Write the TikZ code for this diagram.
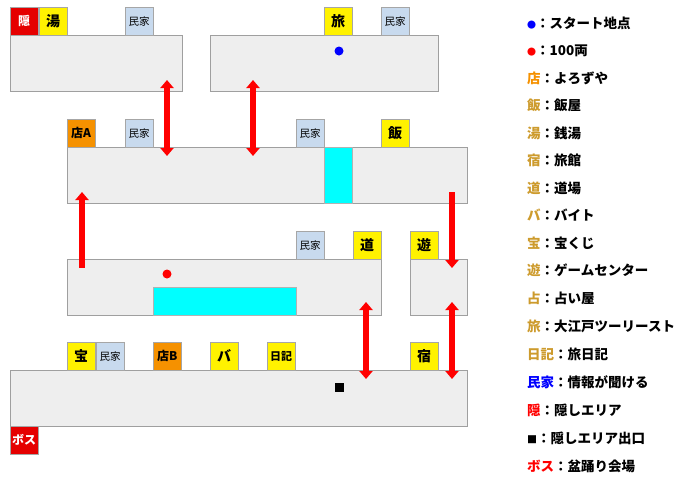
\documentclass[tikz,border=0pt]{standalone}
\usepackage{fontspec}
\setmainfont{Noto Sans CJK JP}
\usetikzlibrary{arrows.meta,positioning}
\definecolor{pool}{RGB}{0,255,255}
\definecolor{shopor}{RGB}{245,145,0}
\definecolor{keygold}{RGB}{205,155,45}
\tikzset{
    % Colours
    room color/.style={fill=gray!13,draw=gray!75},
    water/.style={fill=pool,draw=gray!60},
    %
    % Tiles
    tile/.style={draw=gray!70,minimum width=28pt,minimum height=28pt,inner sep=0pt,anchor=north west},
    spot/.style={tile,fill=yellow,font=\bfseries\fontsize{14}{14}\selectfont},
    house/.style={tile,fill={rgb,255:red,200;green,218;blue,238},font=\fontsize{10.5}{10.5}\selectfont},
    shop/.style={tile,fill=shopor,font=\bfseries\fontsize{12}{12}\selectfont},
    secret/.style={tile,fill=red!90!black,text=white,font=\bfseries\fontsize{12}{12}\selectfont},
    %
    % Arrows
    link tip/.tip={Triangle[width=13pt,length=8pt]},
    link/.style={{link tip}-{link tip},red,line width=6.5pt},
    legend/.style={anchor=west,font=\bfseries\fontsize{13.5}{13.5}\selectfont,inner sep=0pt}
}
\newcommand{\dotkey}[1]{\textcolor{#1}{\fontsize{9}{9}\selectfont●}}
\begin{document}
\begin{tikzpicture}[x=1pt,y=-1pt]
    \useasboundingbox (0,0) rectangle (700,480);
    % rooms
    \draw[room color] (10,35) rectangle (182,91);
    \draw[room color] (210,35) rectangle (438,91);
    \draw[room color] (67,147) rectangle (467,203);
    \draw[water] (324,147) rectangle (352,203);
    \draw[room color] (67,259) rectangle (381,315);
    \draw[water] (153,287) rectangle (296,315);
    \draw[room color] (410,259) rectangle (467,315);
    \draw[room color] (10,370) rectangle (467,426);
    % row 1
    \node[secret] (hide) at (10,7) {隠};
    \node[spot] (bath) at (39,7) {湯};
    \node[house] (h1) at (125,7) {民家};
    \node[spot] (tour) at (324,7) {旅};
    \node[house] (h2) at (381,7) {民家};
    % row 2
    \node[shop] (shopA) at (67,119) {店A};
    \node[house] (h3) at (125,119) {民家};
    \node[house] (h4) at (296,119) {民家};
    \node[spot] (meal) at (381,119) {飯};
    % row 3
    \node[house] (h5) at (296,231) {民家};
    \node[spot] (dojo) at (353,231) {道};
    \node[spot] (game) at (410,231) {遊};
    % row 4
    \node[spot] (lot) at (67,342) {宝};
    \node[house] (h6) at (96,342) {民家};
    \node[shop] (shopB) at (153,342) {店B};
    \node[spot] (job) at (210,342) {バ};
    \node[spot,font=\bfseries\fontsize{11}{11}\selectfont] (diary) at (267,342) {日記};
    \node[spot] (inn) at (410,342) {宿};
    \node[secret] (boss) at (10,426) {ボス};
    % marks
    \fill[blue] (339,51) circle[radius=4.5pt];
    \fill[red] (167,274) circle[radius=4.5pt];
    \fill[black] (334.5,382.5) rectangle (343.5,391.5);
    % links
    \coordinate (a1) at (167,80); \coordinate (a2) at (167,156);
    \coordinate (b1) at (253,80); \coordinate (b2) at (253,156);
    \coordinate (c1) at (82,192); \coordinate (c2) at (82,268);
    \coordinate (d1) at (452,192); \coordinate (d2) at (452,268);
    \coordinate (e1) at (366,302); \coordinate (e2) at (366,379);
    \coordinate (f1) at (452,302); \coordinate (f2) at (452,379);
    \foreach \s in {a,b,e,f}{
        \draw[link] (\s1) -- (\s2);
    }
    \draw[link,{link tip}-] (c1) -- (c2);
    \draw[link,-{link tip}] (d1) -- (d2);
    % legend
    \node[legend] (l1) at (527,23) {\dotkey{blue}：スタート地点};
    \node[legend] (l2) at (527,51) {\dotkey{red}：100両};
    \node[legend] (l3) at (527,78) {\textcolor{shopor}{店}：よろずや};
    \node[legend] (l4) at (527,105) {\textcolor{keygold}{飯}：飯屋};
    \node[legend] (l5) at (527,133) {\textcolor{keygold}{湯}：銭湯};
    \node[legend] (l6) at (527,160) {\textcolor{keygold}{宿}：旅館};
    \node[legend] (l7) at (527,188) {\textcolor{keygold}{道}：道場};
    \node[legend] (l8) at (527,215) {\textcolor{keygold}{バ}：バイト};
    \node[legend] (l9) at (527,243) {\textcolor{keygold}{宝}：宝くじ};
    \node[legend] (l10) at (527,270) {\textcolor{keygold}{遊}：ゲームセンター};
    \node[legend] (l11) at (527,298) {\textcolor{keygold}{占}：占い屋};
    \node[legend] (l12) at (527,326) {\textcolor{keygold}{旅}：大江戸ツーリースト};
    \node[legend] (l13) at (527,354) {\textcolor{keygold}{日記}：旅日記};
    \node[legend] (l14) at (527,382) {\textcolor{blue}{民家}：情報が聞ける};
    \node[legend] (l15) at (527,410) {\textcolor{red}{隠}：隠しエリア};
    \node[legend] (l16) at (527,438) {{\fontsize{10}{10}\selectfont■}：隠しエリア出口};
    \node[legend] (l17) at (527,466) {\textcolor{red}{ボス}：盆踊り会場};
\end{tikzpicture}
\end{document}
